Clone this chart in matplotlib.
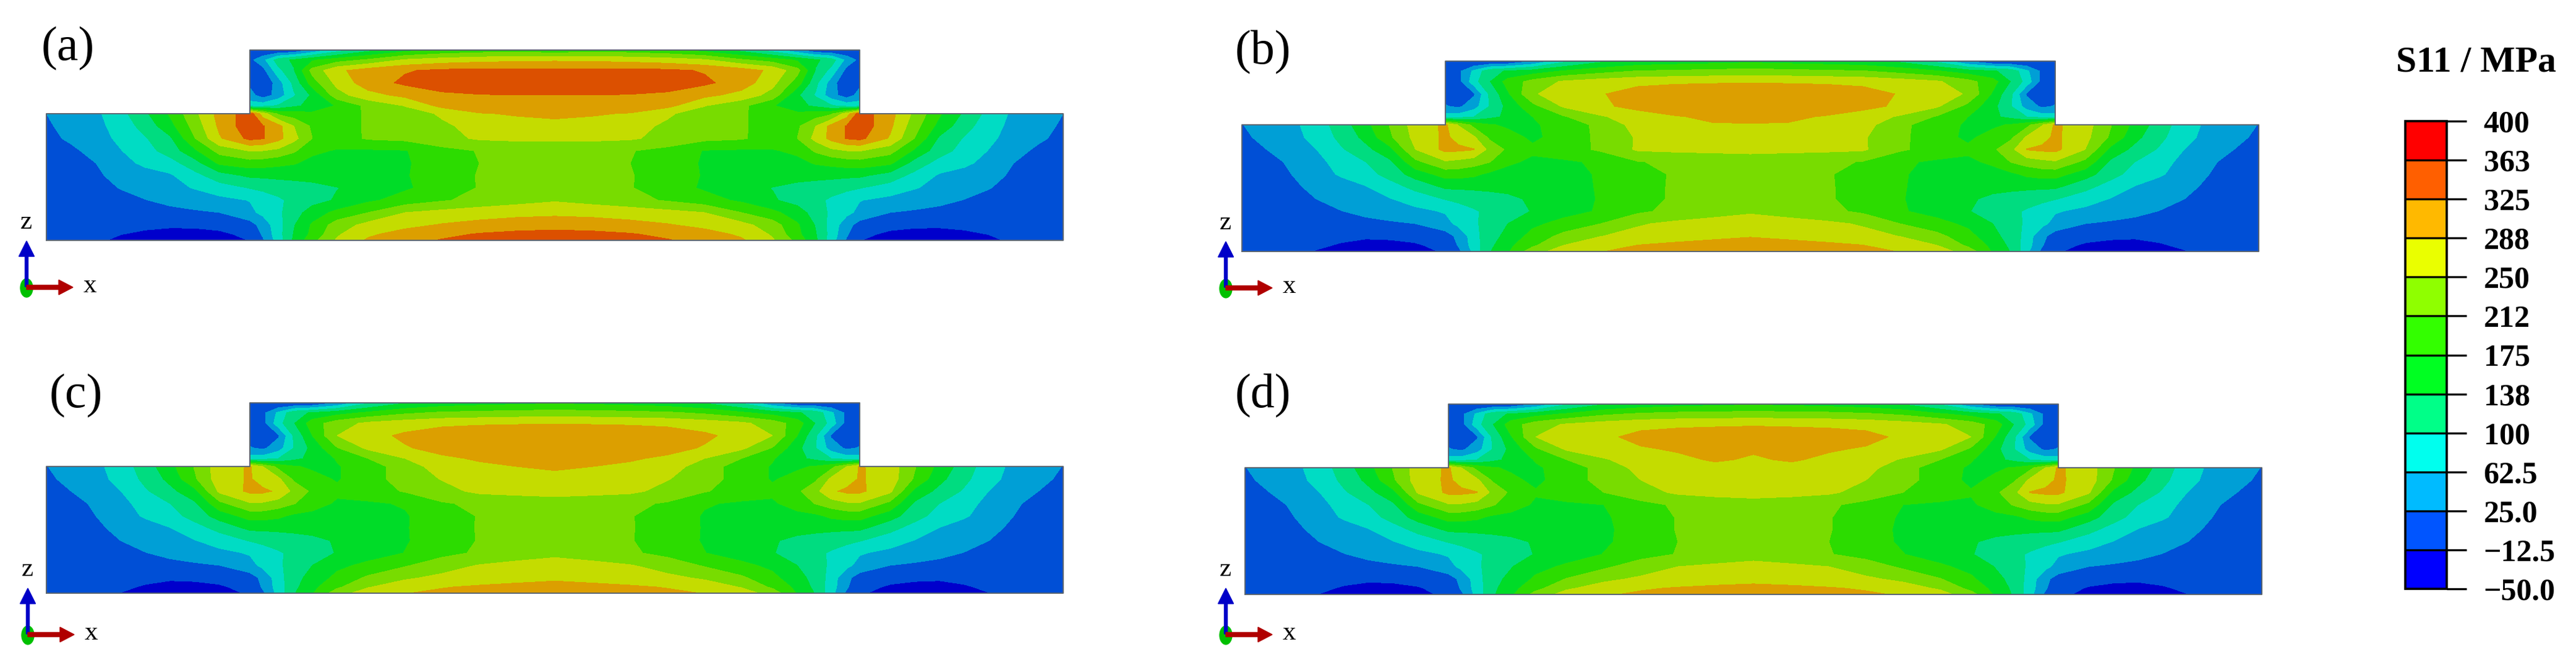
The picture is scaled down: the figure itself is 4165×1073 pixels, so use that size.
import numpy as np
import matplotlib
matplotlib.use('Agg')
import matplotlib.pyplot as plt
from matplotlib.colors import ListedColormap, BoundaryNorm
from matplotlib.cm import ScalarMappable
from matplotlib.patches import Ellipse

plt.rcParams['font.family'] = ['Liberation Serif', 'DejaVu Serif']

W, H = 4165, 1073

# Stress levels (MPa) and band colours
levels = [-50, -12.5, 25, 62.5, 100, 138, 175, 212, 250, 288, 325, 363, 400]
level_labels = ['\u221250.0', '\u221212.5', '25.0', '62.5', '100', '138', '175', '212',
                '250', '288', '325', '363', '400']
field_colors = ['#0000cc', '#004fd6', '#009fd6', '#00dcc4', '#00dc80', '#00dc28',
                '#2cdc00', '#78dc00', '#c4dc00', '#dc9f00', '#dc5000', '#dc0000']
bar_colors = ['#0000ff', '#0055ff', '#00bbff', '#00ffee', '#00ff88', '#00ff22',
              '#33ff00', '#8fff00', '#eaff00', '#ffb900', '#ff5f00', '#ff0000']

# Half section grid (mirrored about the centre line)
x_half = [0, 40, 80, 120, 160, 200, 240, 280, 329, 350, 375, 400, 430, 470, 520, 580, 640, 700, 760, 822]
z_low = [0, 10, 25, 45, 65, 85, 105, 125, 145, 165, 185, 205]
z_high = [218, 235, 255, 275, 292, 308]

a_low = [
    [5, 0, -8, -18, -22, -25, -24, -20, -12, 20, 80, 145, 200, 255, 293, 312, 328, 335, 342, 345],
    [5, 2, -4, -12, -17, -20, -19, -16, -8, 30, 85, 140, 185, 245, 282, 302, 316, 328, 334, 336],
    [6, 5, 2, -3, -7, -9, -9, -7, 10, 40, 85, 135, 180, 230, 262, 278, 291, 300, 308, 312],
    [3, 5, 7, 10, 13, 16, 20, 25, 53, 72, 92, 122, 155, 185, 212, 250, 262, 270, 275, 278],
    [6, 9, 13, 18, 24, 33, 42, 52, 64, 80, 95, 108, 125, 142, 168, 190, 208, 224, 236, 246],
    [7, 11, 17, 26, 39, 51, 65, 83, 102, 108, 112, 118, 125, 137, 150, 170, 192, 214, 224, 230],
    [9, 14, 20, 35, 47, 58, 88, 122, 145, 146, 150, 152, 154, 156, 160, 172, 196, 214, 222, 226],
    [10, 17, 25, 49, 71, 85, 123, 182, 195, 192, 184, 178, 165, 160, 163, 170, 198, 212, 220, 224],
    [12, 18, 37, 61, 85, 117, 168, 226, 252, 250, 240, 218, 182, 172, 170, 173, 200, 214, 222, 226],
    [15, 31, 48, 70, 97, 132, 211, 284, 335, 328, 300, 262, 212, 195, 216, 222, 238, 255, 258, 258],
    [20, 37, 53, 76, 116, 162, 227, 296, 350, 328, 300, 250, 205, 190, 218, 238, 244, 262, 272, 280],
    [25, 40, 55, 87, 132, 180, 241, 302, 345, 270, 205, 190, 182, 190, 218, 232, 255, 285, 292, 294],
]
a_high = [
    [80, 85, 105, 130, 150, 178, 222, 252, 300, 318, 320, 322],
    [40, 5, 40, 95, 145, 235, 275, 298, 318, 323, 325, 325],
    [15, -12, 45, 110, 195, 262, 308, 332, 345, 352, 355, 355],
    [-5, 12, 88, 135, 225, 280, 306, 322, 332, 334, 334, 334],
    [15, 50, 120, 145, 170, 195, 218, 255, 268, 276, 280, 282],
    [-12, -10, -15, -10, 30, 80, 125, 160, 180, 190, 195, 185],
]

b_low = [
    [5, 1, -6, -14, -20, -25, -24, -20, -10, 15, 72, 135, 170, 235, 268, 287, 296, 303, 308, 310],
    [5, 3, -2, -8, -15, -20, -19, -15, -6, 28, 80, 128, 165, 205, 250, 270, 289, 296, 300, 302],
    [6, 5, 2, -2, -6, -9, -8, -6, 8, 35, 82, 128, 145, 190, 222, 249, 262, 272, 280, 286],
    [3, 5, 7, 10, 13, 16, 20, 25, 50, 72, 92, 118, 138, 165, 190, 212, 246, 258, 264, 268],
    [6, 9, 13, 18, 24, 33, 42, 52, 66, 80, 96, 108, 122, 140, 158, 180, 205, 222, 235, 245],
    [7, 11, 17, 25, 37, 49, 61, 80, 102, 110, 114, 120, 128, 145, 156, 178, 195, 218, 225, 228],
    [8, 13, 19, 33, 47, 61, 85, 111, 146, 146, 148, 150, 152, 155, 162, 178, 200, 216, 222, 226],
    [9, 16, 25, 46, 67, 85, 114, 155, 190, 190, 182, 168, 165, 162, 165, 178, 198, 216, 220, 224],
    [9, 17, 29, 53, 75, 100, 132, 202, 246, 240, 230, 214, 180, 170, 170, 180, 210, 220, 224, 228],
    [12, 25, 45, 62, 95, 127, 165, 249, 298, 296, 290, 240, 205, 180, 195, 218, 255, 258, 260, 262],
    [18, 35, 51, 73, 110, 149, 207, 261, 295, 275, 255, 205, 185, 170, 185, 222, 254, 266, 272, 276],
    [24, 39, 54, 79, 119, 164, 215, 266, 295, 248, 200, 178, 170, 170, 190, 222, 265, 278, 285, 286],
]
b_high = [
    [80, 82, 100, 128, 145, 175, 208, 245, 272, 285, 295, 298],
    [28, 18, 45, 100, 150, 200, 255, 282, 298, 312, 318, 320],
    [5, -5, 20, 105, 170, 245, 272, 285, 306, 316, 320, 322],
    [-5, 10, 85, 135, 190, 225, 255, 268, 276, 280, 282, 284],
    [-8, 15, 70, 125, 142, 155, 178, 198, 214, 218, 222, 226],
    [-10, -13, -18, -20, -15, 22, 90, 130, 148, 155, 160, 165],
]

c_low = [
    [5, 1, -5, -13, -20, -25, -24, -20, -10, 18, 75, 135, 172, 235, 268, 287, 295, 302, 306, 308],
    [5, 3, -2, -8, -15, -20, -19, -15, -6, 30, 80, 128, 165, 205, 248, 268, 286, 293, 297, 299],
    [6, 5, 2, -2, -6, -9, -8, -6, 8, 35, 82, 128, 148, 186, 218, 245, 258, 268, 276, 282],
    [3, 5, 7, 10, 13, 16, 20, 25, 50, 72, 92, 118, 138, 165, 185, 208, 235, 252, 260, 264],
    [6, 9, 13, 18, 24, 33, 42, 52, 66, 80, 96, 108, 122, 140, 156, 176, 200, 218, 232, 242],
    [7, 11, 17, 25, 37, 49, 61, 80, 102, 110, 114, 120, 128, 142, 152, 172, 194, 214, 224, 228],
    [8, 13, 19, 33, 47, 61, 85, 111, 146, 146, 148, 150, 152, 155, 160, 172, 198, 214, 220, 224],
    [9, 16, 25, 46, 67, 85, 114, 155, 190, 190, 182, 168, 165, 162, 165, 172, 196, 214, 220, 224],
    [9, 17, 29, 53, 75, 100, 132, 202, 246, 245, 232, 214, 190, 170, 170, 178, 208, 220, 226, 230],
    [12, 25, 45, 62, 95, 127, 165, 258, 296, 296, 282, 240, 205, 182, 195, 215, 238, 258, 262, 266],
    [18, 35, 51, 73, 110, 149, 207, 272, 292, 270, 258, 205, 185, 172, 195, 230, 252, 268, 275, 280],
    [24, 39, 54, 79, 119, 164, 215, 270, 292, 250, 200, 178, 170, 172, 195, 230, 270, 282, 288, 292],
]
c_high = [
    [80, 82, 100, 128, 148, 178, 212, 250, 282, 292, 300, 302],
    [28, 18, 45, 100, 150, 210, 258, 285, 300, 312, 320, 322],
    [5, -5, 20, 105, 175, 250, 275, 295, 312, 320, 323, 325],
    [-5, 10, 85, 135, 195, 232, 258, 270, 278, 282, 284, 286],
    [-8, 15, 70, 125, 142, 160, 182, 205, 218, 222, 226, 228],
    [-10, -13, -18, -20, -14, 25, 95, 135, 152, 160, 165, 170],
]

d_low = [
    [5, 1, -5, -13, -19, -24, -23, -18, -8, 18, 75, 132, 168, 228, 265, 284, 294, 300, 304, 306],
    [5, 3, -2, -8, -15, -19, -18, -14, -5, 30, 80, 128, 162, 200, 245, 266, 284, 291, 295, 297],
    [6, 5, 2, -2, -6, -9, -8, -6, 8, 35, 82, 128, 146, 182, 214, 242, 256, 266, 273, 278],
    [3, 5, 7, 10, 13, 16, 20, 25, 50, 72, 92, 118, 136, 162, 182, 205, 232, 250, 256, 260],
    [6, 9, 13, 18, 24, 33, 42, 52, 66, 80, 96, 108, 122, 140, 156, 176, 198, 214, 230, 238],
    [7, 11, 17, 25, 37, 49, 61, 80, 102, 110, 114, 120, 128, 142, 152, 170, 190, 212, 220, 226],
    [8, 13, 19, 33, 47, 61, 85, 111, 146, 146, 148, 150, 152, 155, 160, 168, 192, 214, 218, 222],
    [9, 16, 25, 46, 67, 85, 114, 155, 190, 190, 182, 168, 165, 162, 165, 170, 194, 214, 220, 224],
    [9, 17, 29, 53, 75, 100, 132, 202, 246, 245, 235, 216, 190, 170, 170, 175, 200, 218, 228, 232],
    [12, 25, 45, 62, 95, 127, 165, 255, 296, 296, 290, 240, 205, 178, 190, 212, 236, 256, 262, 266],
    [18, 35, 51, 73, 110, 149, 207, 270, 294, 275, 258, 208, 182, 168, 190, 228, 250, 266, 272, 276],
    [24, 39, 54, 79, 119, 164, 215, 268, 294, 250, 200, 178, 170, 170, 190, 228, 262, 272, 278, 280],
]
d_high = [
    [80, 82, 100, 128, 148, 178, 212, 246, 270, 280, 292, 284],
    [28, 18, 45, 100, 150, 205, 255, 272, 284, 292, 305, 292],
    [5, -5, 20, 105, 172, 250, 268, 280, 300, 308, 312, 315],
    [-5, 10, 85, 135, 195, 232, 255, 268, 276, 280, 282, 284],
    [-8, 15, 70, 125, 142, 160, 180, 205, 218, 224, 226, 228],
    [-10, -13, -18, -20, -14, 25, 95, 135, 152, 160, 165, 170],
]


def px_axes(fig, left, top, width, height):
    """Axes placed with pixel numbers measured from the top left of the picture."""
    return fig.add_axes([left / W, 1 - (top + height) / H, width / W, height / H])


def full_grid(low, high):
    """Mirror the half section and blank the corners above the shoulders."""
    n_blank = len(x_half) - len(high[0])
    rows = [list(r) for r in low] + [[np.nan] * n_blank + list(r) for r in high]
    half = np.array(rows, dtype=float)
    return np.ma.masked_invalid(np.hstack([half, half[:, -2::-1]]))


def draw_panel(fig, left, bottom, low, high):
    x_half_arr = np.array(x_half, dtype=float)
    span = 2 * x_half_arr[-1]
    x_full = np.concatenate([x_half_arr, span - x_half_arr[-2::-1]])
    z_full = np.array(z_low + z_high, dtype=float)

    ax = px_axes(fig, left, bottom - z_full[-1], span, z_full[-1])
    ax.contourf(x_full, z_full, full_grid(low, high), levels=levels, colors=field_colors,
                corner_mask=False)

    # Outline of the section
    step = x_half[len(x_half) - len(high[0])]
    sh = z_low[-1]
    top = z_full[-1]
    ax.plot([0, 0, step, step, span - step, span - step, span, span, 0],
            [0, sh, sh, top, top, sh, sh, 0, 0],
            color='#5a6470', linewidth=1.4, clip_on=False)
    ax.set_xlim(0, span)
    ax.set_ylim(0, top)
    ax.axis('off')


def draw_triad(ax, ox, oy):
    ax.add_patch(Ellipse((ox, oy + 2), 20, 30, color='#00c000', zorder=2))
    ax.arrow(ox, oy, 0, -74, width=5, head_width=25, head_length=25,
             length_includes_head=True, color='#0000c8', zorder=3)
    ax.arrow(ox, oy + 1, 75, 0, width=7, head_width=24, head_length=23,
             length_includes_head=True, color='#b00000', zorder=4)
    ax.text(ox - 1, oy - 104, 'z', fontsize=31, ha='center', va='center')
    ax.text(ox + 102, oy - 1, 'x', fontsize=31, ha='center', va='center')


fig = plt.figure(figsize=(W / 100, H / 100), dpi=100, facecolor='white')

draw_panel(fig, 75, 389, a_low, a_high)
draw_panel(fig, 2008, 407, b_low, b_high)
draw_panel(fig, 75, 960, c_low, c_high)
draw_panel(fig, 2013, 962, d_low, d_high)

# Overlay in picture pixels for the panel letters and the axis triads
overlay = fig.add_axes([0, 0, 1, 1], facecolor='none')
overlay.set_xlim(0, W)
overlay.set_ylim(H, 0)
overlay.axis('off')

for label, lx, ly in [('(a)', 110, 79), ('(b)', 2042, 85), ('(c)', 123, 641), ('(d)', 2042, 641)]:
    overlay.text(lx, ly, label, fontsize=56, ha='center', va='center')
for ox, oy in [(43, 464), (1982, 465), (45, 1026), (1982, 1026)]:
    draw_triad(overlay, ox, oy)

# Colour key
cax = px_axes(fig, 3889, 196, 67, 757)
norm = BoundaryNorm(levels, len(bar_colors))
sm = ScalarMappable(norm=norm, cmap=ListedColormap(bar_colors))
cbar = fig.colorbar(sm, cax=cax, spacing='uniform', ticks=levels, drawedges=True)
cbar.ax.set_yticklabels(level_labels, fontsize=36, fontweight='bold')
cbar.ax.tick_params(length=23, width=2.4, pad=20, color='black')
cbar.outline.set_linewidth(2.6)
cbar.dividers.set_linewidth(2.4)
cbar.minorticks_off()

fig.text(4003 / W, 1 - 102 / H, 'S11 / MPa', fontsize=43, fontweight='bold', ha='center', va='center')

fig.savefig('out.png', dpi=100, facecolor='white')
